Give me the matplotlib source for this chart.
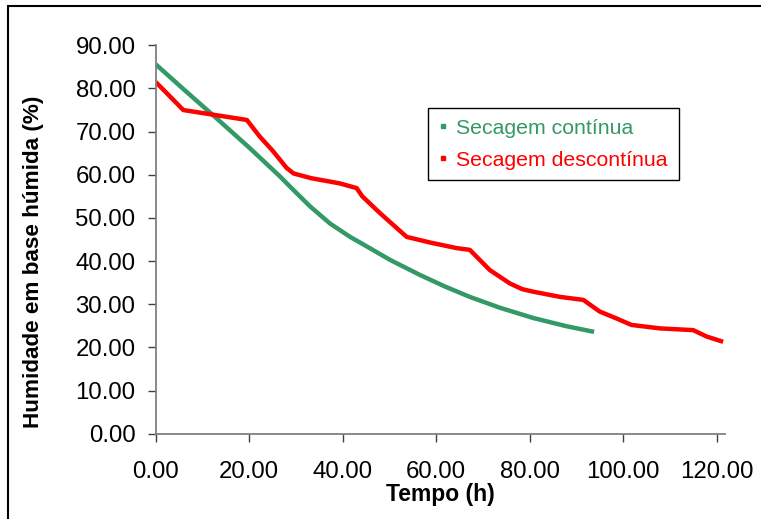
import matplotlib
matplotlib.use("Agg")
import matplotlib.pyplot as plt
from matplotlib.lines import Line2D
from matplotlib.patches import Rectangle
from matplotlib.ticker import FormatStrFormatter, MultipleLocator

# Data
cont_t = [0.0, 6.5, 13.0, 20.0, 26.6, 28.7, 33.0, 37.3, 41.6, 45.8, 50.1, 56.5, 61.9, 67.2,
          73.6, 80.8, 87.9, 93.8]
cont_h = [85.6, 79.3, 73.1, 66.3, 59.6, 57.3, 52.7, 48.7, 45.6, 43.0, 40.3, 36.8, 34.1, 31.7,
          29.2, 26.8, 24.9, 23.6]

desc_t = [0.0, 3.1, 5.9, 13.0, 19.5, 22.3, 25.0, 28.0, 29.5, 33.3, 39.4, 43.0, 44.2, 48.0, 51.0,
          53.7, 58.7, 64.4, 67.2, 71.5, 75.8, 78.4, 80.8, 86.5, 91.5, 95.0, 98.6, 101.8, 107.9,
          115.0, 117.9, 121.4]
desc_h = [81.5, 78.1, 75.0, 73.8, 72.7, 68.8, 65.6, 61.6, 60.3, 59.2, 58.0, 56.9, 55.0, 51.1, 48.2,
          45.6, 44.3, 43.0, 42.6, 37.9, 34.8, 33.5, 32.9, 31.7, 31.0, 28.3, 26.7, 25.2, 24.4,
          24.0, 22.5, 21.3]

labels = ["Secagem contínua", "Secagem descontínua"]
colors = ["#339966", "#FF0000"]

plt.rcParams['font.family'] = ['Liberation Sans', 'DejaVu Sans']

W, H = 761, 519
fig = plt.figure(figsize=(W / 100, H / 100), dpi=100)
ax = fig.add_axes([155.7 / W, 1 - 433.7 / H, (725 - 155.7) / W, (433.7 - 45.3) / H])

ax.plot(cont_t, cont_h, color=colors[0], lw=3.2, solid_capstyle='butt', solid_joinstyle='round')
ax.plot(desc_t, desc_h, color=colors[1], lw=3.2, solid_capstyle='butt', solid_joinstyle='round')

ax.set_xlim(0, 121.8)
ax.set_ylim(0, 90)
ax.xaxis.set_major_locator(MultipleLocator(20))
ax.yaxis.set_major_locator(MultipleLocator(10))
ax.xaxis.set_major_formatter(FormatStrFormatter('%.2f'))
ax.yaxis.set_major_formatter(FormatStrFormatter('%.2f'))

for s in ['top', 'right']:
    ax.spines[s].set_visible(False)
for s in ['left', 'bottom']:
    ax.spines[s].set_color('#808080')
    ax.spines[s].set_linewidth(1.3)

ax.tick_params(axis='x', direction='out', length=6, width=1, color='#404040',
               labelsize=17.3, pad=13.5)
ax.tick_params(axis='y', direction='out', length=6, width=1, color='#404040',
               labelsize=17.3, pad=8.5)

fig.text(440.5 / W, 1 - 495 / H, "Tempo (h)", ha='center', va='center',
         fontsize=16.5, fontweight='bold')
fig.text(34 / W, 1 - 261.7 / H, "Humidade em base húmida (%)", ha='center', va='center',
         rotation=90, fontsize=16.2, fontweight='bold')

handles = [Line2D([], [], color=c, marker='s', markersize=2.5, linestyle='none') for c in colors]
leg = ax.legend(handles, labels, loc='upper left',
                bbox_to_anchor=(427.7 / W, 1 - 108.3 / H), bbox_transform=fig.transFigure,
                fontsize=15.3, frameon=True, fancybox=False, framealpha=1,
                edgecolor='black', handlelength=0.4, handletextpad=0.45,
                borderpad=0.5, labelspacing=0.6, borderaxespad=0)
leg.get_frame().set_linewidth(1.0)
for t, c in zip(leg.get_texts(), colors):
    t.set_color(c)

border = Rectangle((8 / W, -0.2), 1.0, 1 - 6 / H + 0.2, transform=fig.transFigure,
                   fill=False, edgecolor='black', lw=1.5, clip_on=False)
fig.patches.append(border)

fig.savefig("out.png", dpi=100)
